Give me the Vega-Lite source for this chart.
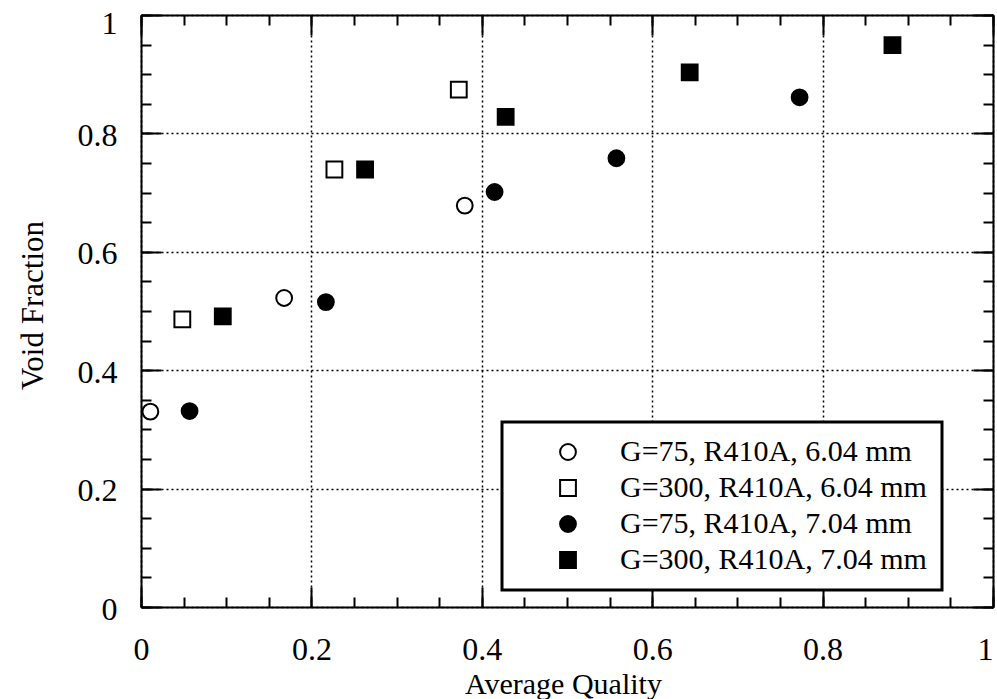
{
  "$schema": "https://vega.github.io/schema/vega-lite/v6.json",
  "width": 852,
  "height": 592,
  "autosize": {"type": "none"},
  "padding": {"left": 141, "top": 15, "right": 4, "bottom": 92},
  "background": "white",
  "config": {
    "font": "Liberation Serif",
    "view": {"stroke": null},
    "legend": {"strokeWidth": 3, "symbolStrokeColor": "black", "symbolStrokeWidth": 2},
    "axis": {
      "domainColor": "black", "domainWidth": 2,
      "tickColor": "black", "tickWidth": 2,
      "labelColor": "black", "titleColor": "black",
      "labelFont": "Liberation Serif", "titleFont": "Liberation Serif",
      "titleFontWeight": "normal"
    }
  },
  "data": {"values": [
    {"series": "G=75, R410A, 6.04 mm", "quality": 0.011, "void": 0.330},
    {"series": "G=75, R410A, 6.04 mm", "quality": 0.168, "void": 0.522},
    {"series": "G=75, R410A, 6.04 mm", "quality": 0.380, "void": 0.678},
    {"series": "G=300, R410A, 6.04 mm", "quality": 0.0485, "void": 0.486},
    {"series": "G=300, R410A, 6.04 mm", "quality": 0.227, "void": 0.739},
    {"series": "G=300, R410A, 6.04 mm", "quality": 0.373, "void": 0.874},
    {"series": "G=75, R410A, 7.04 mm", "quality": 0.057, "void": 0.331},
    {"series": "G=75, R410A, 7.04 mm", "quality": 0.217, "void": 0.515},
    {"series": "G=75, R410A, 7.04 mm", "quality": 0.415, "void": 0.701},
    {"series": "G=75, R410A, 7.04 mm", "quality": 0.558, "void": 0.758},
    {"series": "G=75, R410A, 7.04 mm", "quality": 0.773, "void": 0.861},
    {"series": "G=300, R410A, 7.04 mm", "quality": 0.096, "void": 0.491},
    {"series": "G=300, R410A, 7.04 mm", "quality": 0.263, "void": 0.739},
    {"series": "G=300, R410A, 7.04 mm", "quality": 0.428, "void": 0.828},
    {"series": "G=300, R410A, 7.04 mm", "quality": 0.644, "void": 0.903},
    {"series": "G=300, R410A, 7.04 mm", "quality": 0.882, "void": 0.949}
  ]},
  "layer": [
    {
      "mark": {"type": "point", "filled": true, "strokeWidth": 2, "opacity": 1},
      "encoding": {
        "x": {"field": "quality", "type": "quantitative",
          "scale": {"domain": [0, 1], "nice": false, "zero": false},
          "axis": {"orient": "bottom", "values": [0, 0.2, 0.4, 0.6, 0.8, 1], "format": "~g",
            "tickSize": -20, "labelPadding": 47, "labelFontSize": 32,
            "labelAlign": {"condition": {"test": "datum.value === 1", "value": "right"}, "value": "center"},
            "labelFlush": false, "labelOverlap": false, "labelBound": false,
            "grid": true, "gridDash": [2, 3], "gridColor": "black", "gridWidth": 1.5, "gridOpacity": 1,
            "title": "Average Quality", "titleFontSize": 30, "titleX": 422, "titleY": 86,
            "titleBaseline": "alphabetic", "titleAlign": "center", "titleAnchor": null}},
        "y": {"field": "void", "type": "quantitative",
          "scale": {"domain": [0, 1], "nice": false, "zero": false},
          "axis": {"orient": "left", "values": [0, 0.2, 0.4, 0.6, 0.8, 1], "format": "~g",
            "tickSize": -20, "labelPadding": 44, "labelFontSize": 32,
            "labelOffset": {"condition": {"test": "datum.value === 1", "value": 8}, "value": 2},
            "labelFlush": false, "labelOverlap": false, "labelBound": false,
            "grid": true, "gridDash": [2, 3], "gridColor": "black", "gridWidth": 1.5, "gridOpacity": 1,
            "title": "Void Fraction", "titleFontSize": 31, "titleX": -99, "titleY": 290,
            "titleAngle": -90, "titleBaseline": "alphabetic", "titleAlign": "center", "titleAnchor": null}},
        "shape": {"field": "series", "type": "nominal",
          "scale": {"domain": ["G=75, R410A, 6.04 mm", "G=300, R410A, 6.04 mm", "G=75, R410A, 7.04 mm", "G=300, R410A, 7.04 mm"],
                    "range": ["circle", "square", "circle", "square"]},
          "legend": {"orient": "none", "legendX": 361, "legendY": 407, "title": null,
            "labelFont": "Liberation Serif", "labelFontSize": 30, "labelColor": "black", "labelLimit": 600,
            "labelExpr": "datum.label + '  '",
            "padding": 15, "symbolOffset": 36, "labelOffset": 37, "rowPadding": 6,
            "strokeColor": "black", "fillColor": "white", "symbolStrokeColor": "black", "symbolStrokeWidth": 2}},
        "fill": {"field": "series", "type": "nominal",
          "scale": {"domain": ["G=75, R410A, 6.04 mm", "G=300, R410A, 6.04 mm", "G=75, R410A, 7.04 mm", "G=300, R410A, 7.04 mm"],
                    "range": ["white", "white", "black", "black"]},
          "legend": {"orient": "none", "legendX": 361, "legendY": 407, "title": null}},
        "stroke": {"field": "series", "type": "nominal",
          "scale": {"domain": ["G=75, R410A, 6.04 mm", "G=300, R410A, 6.04 mm", "G=75, R410A, 7.04 mm", "G=300, R410A, 7.04 mm"],
                    "range": ["black", "black", "black", "black"]},
          "legend": {"orient": "none", "legendX": 361, "legendY": 407, "title": null}},
        "size": {"field": "series", "type": "nominal",
          "scale": {"domain": ["G=75, R410A, 6.04 mm", "G=300, R410A, 6.04 mm", "G=75, R410A, 7.04 mm", "G=300, R410A, 7.04 mm"],
                    "range": [250, 250, 250, 250]},
          "legend": {"orient": "none", "legendX": 361, "legendY": 407, "title": null}}
      }
    },
    {
      "mark": {"type": "point", "opacity": 0},
      "encoding": {
        "x": {"field": "quality", "type": "quantitative",
          "axis": {"orient": "bottom", "values": [0, 0.05, 0.1, 0.15, 0.2, 0.25, 0.3, 0.35, 0.4, 0.45, 0.5, 0.55, 0.6, 0.65, 0.7, 0.75, 0.8, 0.85, 0.9, 0.95, 1],
            "tickSize": -10, "labels": false, "grid": false, "domain": false, "title": null}},
        "y": {"field": "void", "type": "quantitative",
          "axis": {"orient": "left", "values": [0, 0.05, 0.1, 0.15, 0.2, 0.25, 0.3, 0.35, 0.4, 0.45, 0.5, 0.55, 0.6, 0.65, 0.7, 0.75, 0.8, 0.85, 0.9, 0.95, 1],
            "tickSize": -10, "labels": false, "grid": false, "domain": false, "title": null}}
      }
    },
    {
      "mark": {"type": "point", "opacity": 0},
      "encoding": {
        "x": {"field": "quality", "type": "quantitative",
          "axis": {"orient": "top", "values": [0, 0.2, 0.4, 0.6, 0.8, 1],
            "tickSize": -20, "labels": false, "grid": false, "domain": true, "title": null}},
        "y": {"field": "void", "type": "quantitative",
          "axis": {"orient": "right", "values": [0, 0.2, 0.4, 0.6, 0.8, 1],
            "tickSize": -20, "labels": false, "grid": false, "domain": true, "title": null}}
      }
    },
    {
      "mark": {"type": "point", "opacity": 0},
      "encoding": {
        "x": {"field": "quality", "type": "quantitative",
          "axis": {"orient": "top", "values": [0, 0.05, 0.1, 0.15, 0.2, 0.25, 0.3, 0.35, 0.4, 0.45, 0.5, 0.55, 0.6, 0.65, 0.7, 0.75, 0.8, 0.85, 0.9, 0.95, 1],
            "tickSize": -10, "labels": false, "grid": false, "domain": false, "title": null}},
        "y": {"field": "void", "type": "quantitative",
          "axis": {"orient": "right", "values": [0, 0.05, 0.1, 0.15, 0.2, 0.25, 0.3, 0.35, 0.4, 0.45, 0.5, 0.55, 0.6, 0.65, 0.7, 0.75, 0.8, 0.85, 0.9, 0.95, 1],
            "tickSize": -10, "labels": false, "grid": false, "domain": false, "title": null}}
      }
    }
  ],
  "resolve": {"axis": {"x": "independent", "y": "independent"}}
}
